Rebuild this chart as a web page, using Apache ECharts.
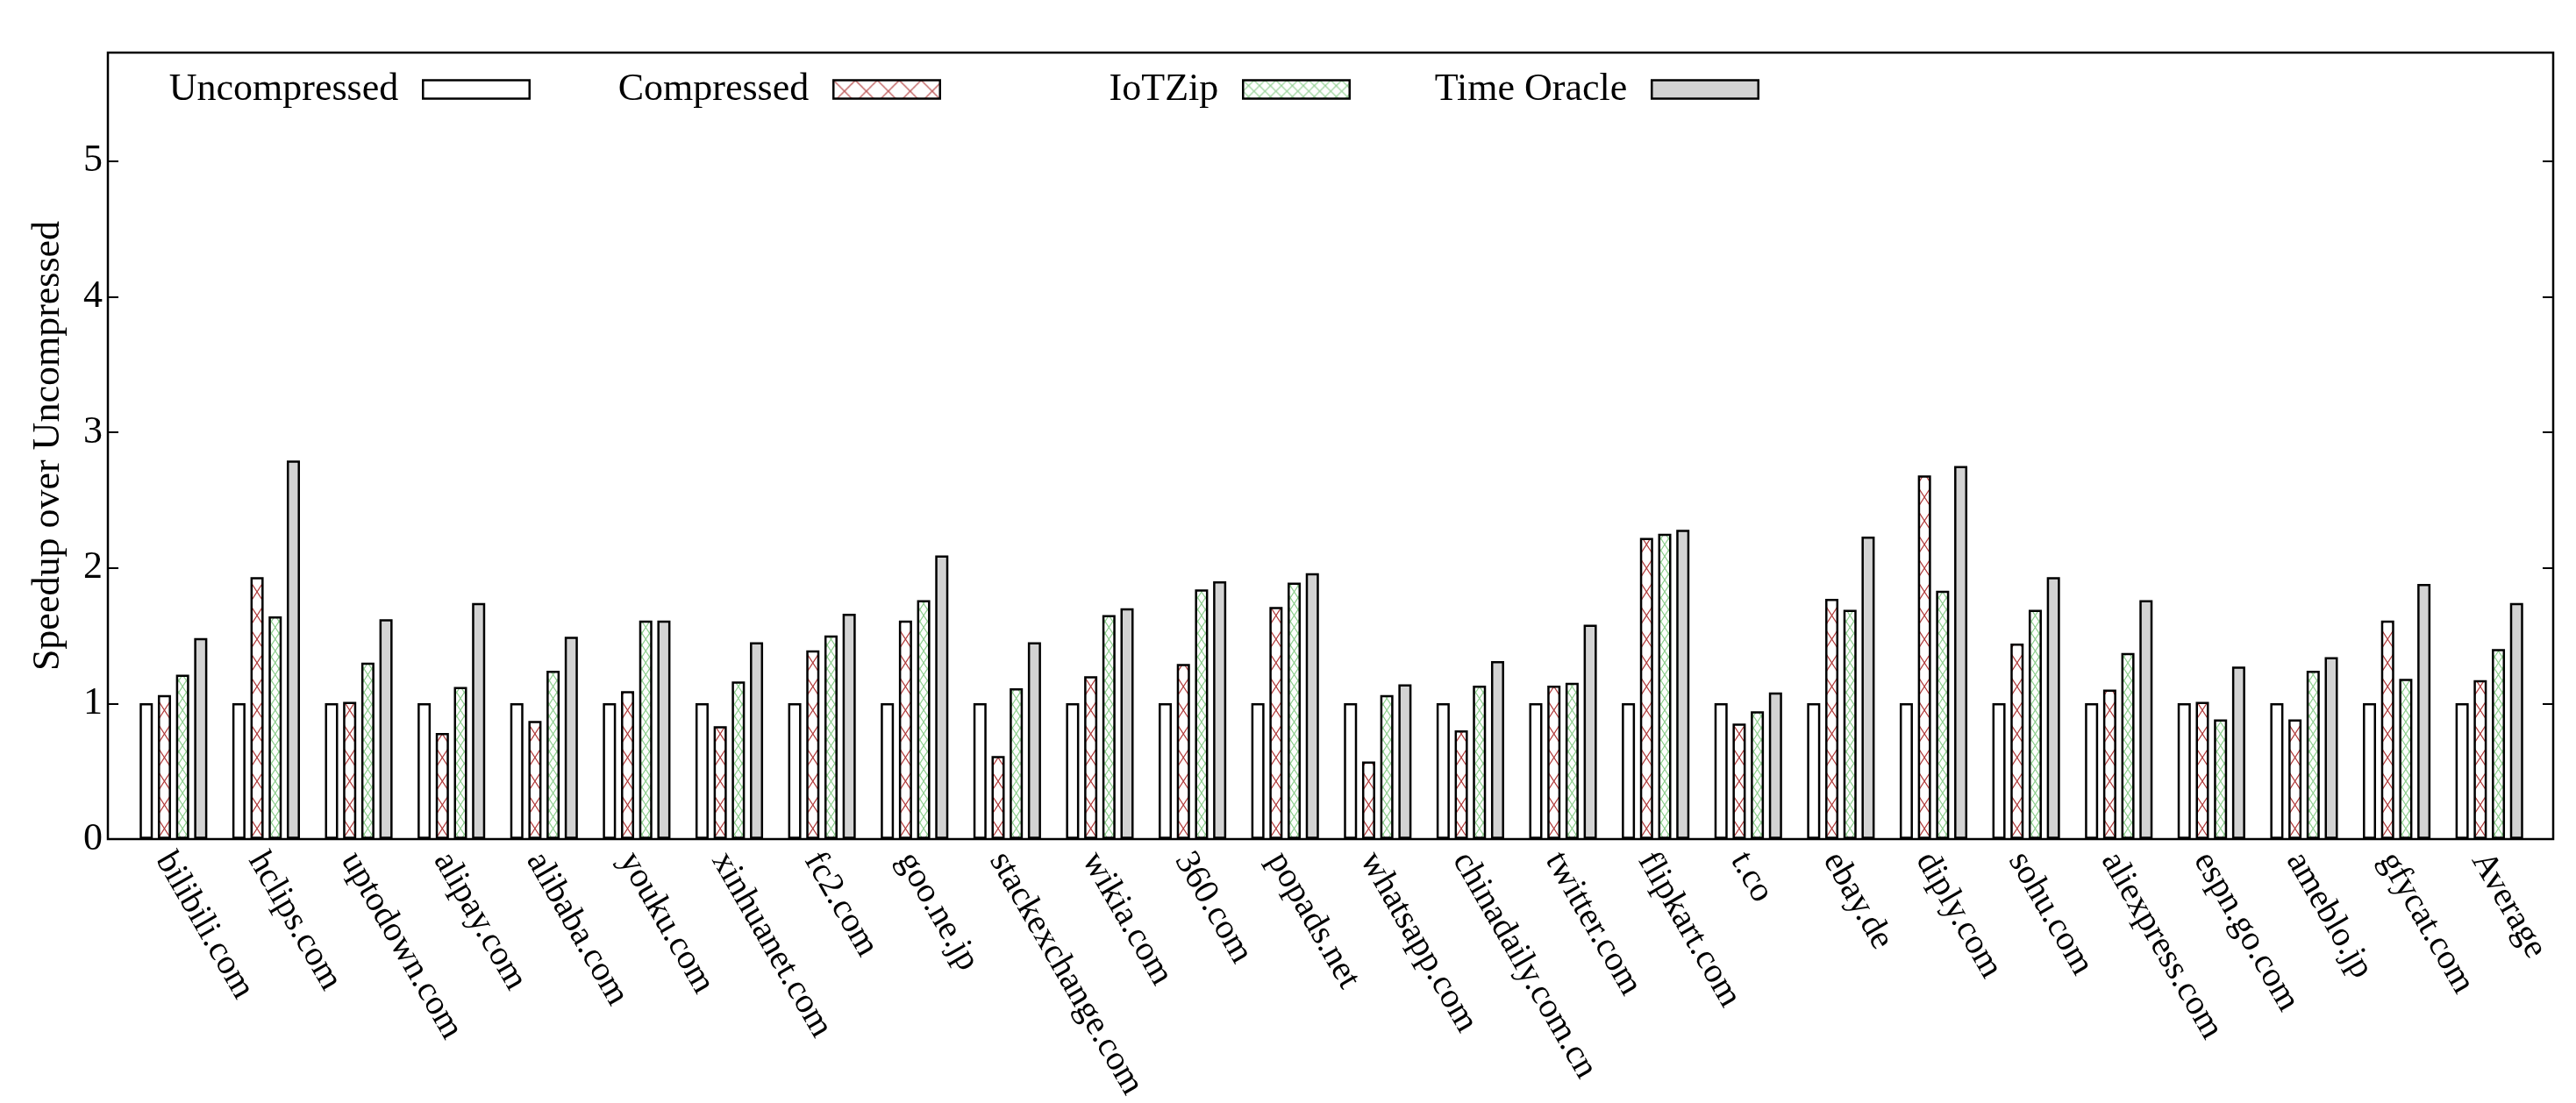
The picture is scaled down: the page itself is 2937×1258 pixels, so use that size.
<!DOCTYPE html>
<html lang="en">
<head>
    <meta charset="UTF-8">
    <title>Speedup over Uncompressed</title>
    <script src="https://cdn.jsdelivr.net/npm/echarts@6/dist/echarts.min.js"></script>
    <style>
        html, body { margin: 0; padding: 0; background: #fff; }
        #main { width: 2937px; height: 1258px; }
    </style>
</head>
<body>
<div id="main"></div>
<script type="text/javascript">
    var sites = ['bilibili.com', 'hclips.com', 'uptodown.com', 'alipay.com', 'alibaba.com', 'youku.com',
        'xinhuanet.com', 'fc2.com', 'goo.ne.jp', 'stackexchange.com', 'wikia.com', '360.com', 'popads.net',
        'whatsapp.com', 'chinadaily.com.cn', 'twitter.com', 'flipkart.com', 't.co', 'ebay.de', 'diply.com',
        'sohu.com', 'aliexpress.com', 'espn.go.com', 'ameblo.jp', 'gfycat.com', 'Average'];
    var uncompressed = [1, 1, 1, 1, 1, 1, 1, 1, 1, 1, 1, 1, 1, 1, 1, 1, 1, 1, 1, 1, 1, 1, 1, 1, 1, 1];
    var compressed = [1.06, 1.93, 1.01, 0.78, 0.87, 1.09, 0.83, 1.39, 1.61, 0.61, 1.20, 1.29, 1.71,
        0.57, 0.80, 1.13, 2.22, 0.85, 1.77, 2.68, 1.44, 1.10, 1.01, 0.88, 1.61, 1.17];
    var iotzip = [1.21, 1.64, 1.30, 1.12, 1.24, 1.61, 1.16, 1.50, 1.76, 1.11, 1.65, 1.84, 1.89,
        1.06, 1.13, 1.15, 2.25, 0.94, 1.69, 1.83, 1.69, 1.37, 0.88, 1.24, 1.18, 1.40];
    var timeOracle = [1.48, 2.79, 1.62, 1.74, 1.49, 1.61, 1.45, 1.66, 2.09, 1.45, 1.70, 1.90, 1.96,
        1.14, 1.31, 1.58, 2.28, 1.08, 2.23, 2.75, 1.93, 1.76, 1.27, 1.34, 1.88, 1.74];
    var seriesNames = ['Uncompressed', 'Compressed', 'IoTZip', 'Time Oracle'];
    var yMin = 0, yMax = 5.8, yStep = 1;

    var FONT = "'Liberation Serif', 'DejaVu Serif', serif";
    var RED = '#b03a3a', GREEN = '#8fcf8f', GRAY = '#d3d3d3';
    var BAR_W = 15, BAR_GAP = 0.38, BORDER = 2.5;

    var chart = echarts.init(document.getElementById('main'));

    // crosshatch tile for the legend boxes
    function legendHatch(color, cell) {
        var c = document.createElement('canvas');
        c.width = cell * 2; c.height = cell * 2;
        var ctx = c.getContext('2d');
        ctx.fillStyle = '#fff';
        ctx.fillRect(0, 0, c.width, c.height);
        ctx.strokeStyle = color;
        ctx.lineWidth = 1.2;
        for (var k = -2; k <= 4; k++) {
            ctx.beginPath();
            ctx.moveTo(k * cell, 0); ctx.lineTo(k * cell + c.height, c.height);
            ctx.moveTo(k * cell, 0); ctx.lineTo(k * cell - c.height, c.height);
            ctx.stroke();
        }
        return {image: c, repeat: 'repeat'};
    }

    // crosshatch tile lined up with every bar of one series (X centred in the bar)
    function barHatch(color, centers, period) {
        var h = (BAR_W + BORDER) / 2;
        var s = 13.5 / h;
        var c = document.createElement('canvas');
        c.width = 2937; c.height = 27;
        var ctx = c.getContext('2d');
        ctx.fillStyle = '#fff';
        ctx.fillRect(0, 0, c.width, c.height);
        ctx.strokeStyle = color;
        ctx.lineWidth = 1.2;
        centers.forEach(function (cx) {
            for (var k = -3; k <= 3; k++) {
                var y0 = k * period;
                ctx.beginPath();
                ctx.moveTo(cx - h - 2, y0 - s * (h + 2)); ctx.lineTo(cx + h + 2, y0 + s * (h + 2));
                ctx.moveTo(cx - h - 2, y0 + s * (h + 2)); ctx.lineTo(cx + h + 2, y0 - s * (h + 2));
                ctx.stroke();
            }
        });
        return {image: c, repeat: 'repeat'};
    }

    function legendAt(name, right, color) {
        return {
            show: true,
            right: right,
            top: 80,
            padding: 0,
            align: 'right',
            icon: 'rect',
            itemWidth: 121.5,
            itemHeight: 21,
            selectedMode: false,
            itemStyle: {borderColor: '#000', borderWidth: BORDER},
            textStyle: {fontFamily: FONT, fontSize: 44, color: '#000', padding: [0, 23, 0, 0]},
            data: [{name: name, itemStyle: {color: color}}]
        };
    }

    function barSeries(name, data, color) {
        return {
            name: name,
            type: 'bar',
            xAxisIndex: 1,
            yAxisIndex: 2,
            data: data,
            barWidth: BAR_W,
            barGap: (BAR_GAP * 100) + '%',
            itemStyle: {color: color, borderColor: '#000', borderWidth: BORDER},
            emphasis: {disabled: true}
        };
    }

    var option = {
        animation: false,
        backgroundColor: '#fff',
        textStyle: {fontFamily: FONT, color: '#000'},
        legend: [
            legendAt(seriesNames[0], 2332, '#fff'),
            legendAt(seriesNames[1], 1864, legendHatch(RED, 25)),
            legendAt(seriesNames[2], 1397, legendHatch(GREEN, 12.5)),
            legendAt(seriesNames[3], 931, GRAY)
        ],
        grid: [
            {left: 123, right: 26, top: 60, bottom: 301, show: true, borderColor: '#000', borderWidth: BORDER},
            {left: 145, right: 46, top: 60, bottom: 301}
        ],
        xAxis: [
            {gridIndex: 0, type: 'value', min: 0, max: 1, show: false},
            {
                gridIndex: 1,
                type: 'category',
                data: sites,
                axisLine: {show: false},
                axisTick: {show: false},
                axisLabel: {
                    interval: 0,
                    rotate: -60,
                    margin: 12,
                    verticalAlign: 'top',
                    lineHeight: 26,
                    fontFamily: FONT,
                    fontSize: 40,
                    color: '#000'
                }
            }
        ],
        yAxis: [
            {
                gridIndex: 0,
                type: 'value',
                min: yMin,
                max: yMax,
                interval: yStep,
                name: 'Speedup over Uncompressed',
                nameLocation: 'middle',
                nameRotate: 90,
                nameGap: 46,
                nameTextStyle: {fontFamily: FONT, fontSize: 44, color: '#000'},
                axisLine: {show: false},
                axisTick: {inside: true, length: 12, lineStyle: {color: '#000', width: 2}},
                axisLabel: {
                    margin: 6,
                    fontFamily: FONT,
                    fontSize: 44,
                    color: '#000',
                    showMaxLabel: false
                },
                splitLine: {show: false}
            },
            {
                gridIndex: 0,
                type: 'value',
                position: 'right',
                min: yMin,
                max: yMax,
                interval: yStep,
                axisLine: {show: false},
                axisTick: {inside: true, length: 12, lineStyle: {color: '#000', width: 2}},
                axisLabel: {show: false},
                splitLine: {show: false}
            },
            {gridIndex: 1, type: 'value', min: yMin, max: yMax, show: false}
        ],
        series: [
            barSeries(seriesNames[0], uncompressed, '#fff'),
            barSeries(seriesNames[1], compressed, '#fff'),
            barSeries(seriesNames[2], iotzip, '#fff'),
            barSeries(seriesNames[3], timeOracle, GRAY)
        ]
    };

    chart.setOption(option);

    // line the hatching up with where the library actually put the bars
    var total = 4 * BAR_W + 3 * BAR_W * BAR_GAP;
    function centersOf(j) {
        return sites.map(function (s, i) {
            var cx = chart.convertToPixel({xAxisIndex: 1}, i);
            return cx - total / 2 + BAR_W / 2 + j * BAR_W * (1 + BAR_GAP);
        });
    }
    chart.setOption({
        series: [
            {},
            {itemStyle: {color: barHatch(RED, centersOf(1), 27)}},
            {itemStyle: {color: barHatch(GREEN, centersOf(2), 13.5)}},
            {}
        ]
    });
</script>
</body>
</html>
